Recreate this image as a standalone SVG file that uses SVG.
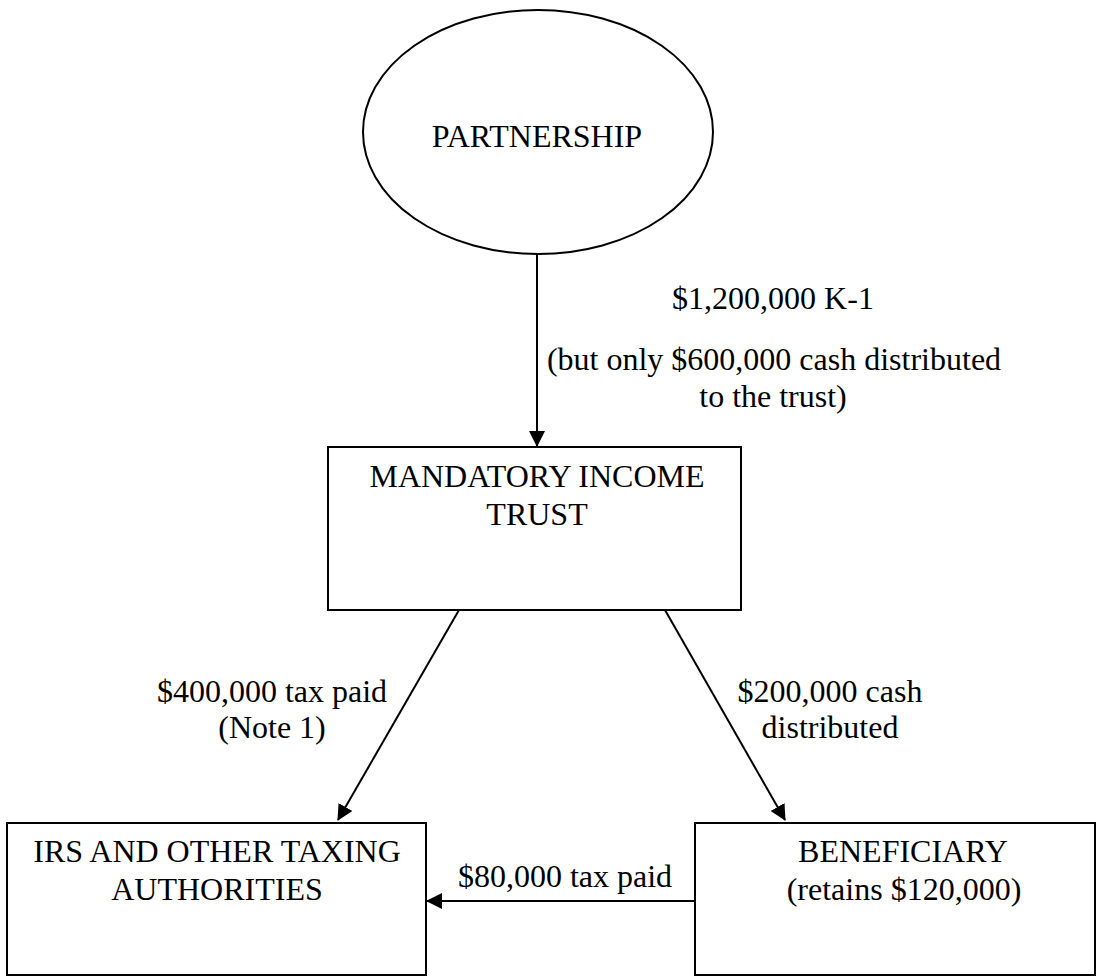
<svg xmlns="http://www.w3.org/2000/svg" width="1102" height="980" viewBox="0 0 1102 980">
  <style>
    .shape { fill: #ffffff; stroke: #000000; stroke-width: 2; }
    .edge { fill: none; stroke: #000000; stroke-width: 2; marker-end: url(#arrow); }
    text { font-family: "Liberation Serif", "Times New Roman", serif; font-size: 32px; fill: #000000; text-anchor: middle; }
  </style>
  <defs>
    <marker id="arrow" markerUnits="userSpaceOnUse" markerWidth="16" markerHeight="16" refX="15" refY="8" orient="auto">
      <path d="M0,0 L16,8 L0,16 z" fill="#000000"/>
    </marker>
  </defs>
  <rect width="1102" height="980" fill="#ffffff"/>

  <g id="connectors">
    <line class="edge" x1="537" y1="254" x2="537" y2="446"/>
    <line class="edge" x1="459" y1="610" x2="338" y2="820"/>
    <line class="edge" x1="665" y1="610" x2="785" y2="820"/>
    <line class="edge" x1="695" y1="901" x2="427" y2="901"/>
    <text x="773" y="309">$1,200,000 K-1</text>
    <text x="774" y="370">(but only $600,000 cash distributed</text>
    <text x="773" y="407">to the trust)</text>
    <text x="272" y="702">$400,000 tax paid</text>
    <text x="272" y="738">(Note 1)</text>
    <text x="830" y="702">$200,000 cash</text>
    <text x="830" y="738">distributed</text>
    <text x="565" y="887">$80,000 tax paid</text>
  </g>

  <g id="partnership">
    <ellipse class="shape" cx="538" cy="132" rx="175" ry="122"/>
    <text x="537" y="147">PARTNERSHIP</text>
  </g>

  <g id="mandatory-income-trust">
    <rect class="shape" x="328" y="447" width="413" height="163"/>
    <text x="537" y="487">MANDATORY INCOME</text>
    <text x="537" y="525">TRUST</text>
  </g>

  <g id="irs">
    <rect class="shape" x="7" y="823" width="419" height="152"/>
    <text x="217" y="862">IRS AND OTHER TAXING</text>
    <text x="217" y="900">AUTHORITIES</text>
  </g>

  <g id="beneficiary">
    <rect class="shape" x="695" y="823" width="400" height="152"/>
    <text x="903" y="862">BENEFICIARY</text>
    <text x="904" y="900">(retains $120,000)</text>
  </g>
</svg>
